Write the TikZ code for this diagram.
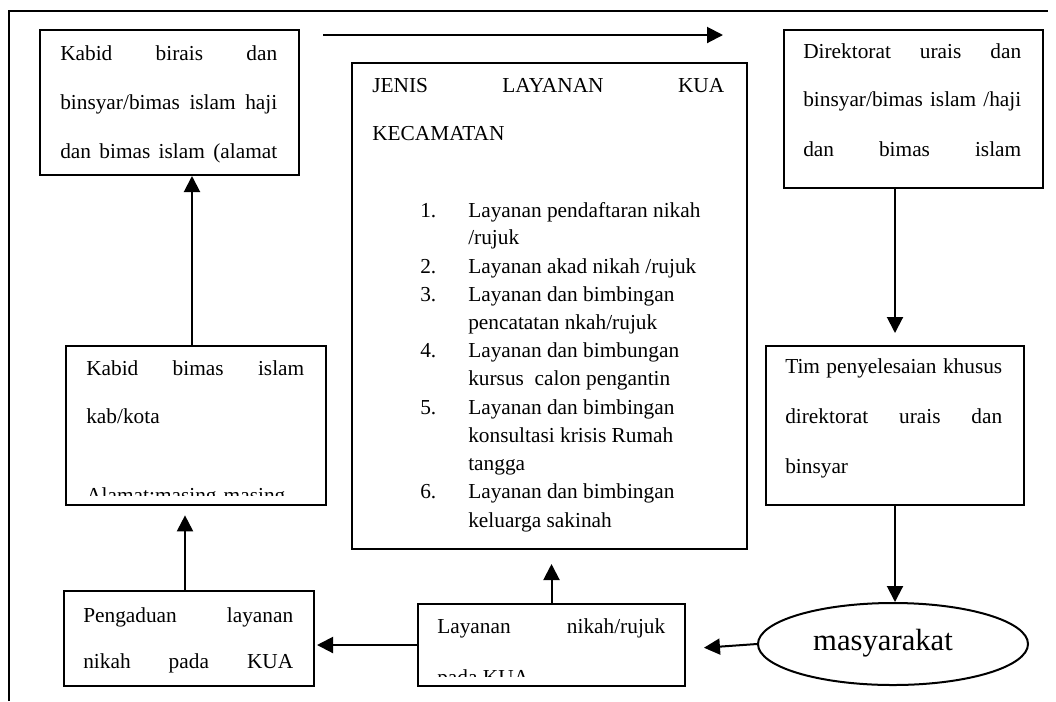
\documentclass[tikz,border=0pt]{standalone}
\usepackage{fontspec}
\setmainfont{Liberation Serif}
\usetikzlibrary{arrows.meta,shapes.geometric}
\newdimen\pxu \pxu=0.75pt
\newcommand\jl[2]{\makebox[#1\pxu][s]{#2}}
\tikzset{
  box/.style={draw, line width=1.5pt, inner sep=0pt, anchor=north west},
  txt/.style={anchor=base west, inner sep=0pt, font=\fontsize{16}{19}\selectfont},
  arr/.style={line width=1.5pt, -{Triangle[length=12pt,width=12pt]}},
  frame/.style={line width=1.5pt}
}
\begin{document}
\begin{tikzpicture}[x=0.75pt,y=-0.75pt]
\useasboundingbox (0,0) rectangle (1056,701);
% outer frame (top and left only)
\draw[frame] (9,701) -- (9,11) -- (1048,11);
% boxes
\node[box, minimum width=259\pxu, minimum height=145\pxu] (A) at (39,29) {};
\node[box, minimum width=395\pxu, minimum height=486\pxu] (J) at (351,62) {};
\node[box, minimum width=259\pxu, minimum height=158\pxu] (D) at (783,29) {};
\node[box, minimum width=258\pxu, minimum height=159\pxu] (T) at (765,345) {};
\node[box, minimum width=260\pxu, minimum height=159\pxu] (K) at (65,345) {};
\node[box, minimum width=250\pxu, minimum height=95\pxu] (P) at (63,590) {};
\node[box, minimum width=267\pxu, minimum height=82\pxu] (L) at (417,603) {};
\node[draw, ellipse, line width=1.5pt, inner sep=0pt, minimum width=270\pxu, minimum height=82\pxu] (M) at (893,644) {};
% texts
\node[txt] (a1) at (60,60) {\jl{217}{Kabid birais dan}};
\node[txt] (a2) at (60,109) {\jl{217}{binsyar/bimas islam haji}};
\node[txt] (a3) at (60,158) {\jl{217}{dan bimas islam (alamat}};
\node[txt] (d1) at (803,58) {\jl{218}{Direktorat urais dan}};
\node[txt] (d2) at (803,106) {\jl{218}{binsyar/bimas islam /haji}};
\node[txt] (d3) at (803,156) {\jl{218}{dan bimas islam}};
\node[txt] (j1) at (372,92) {\jl{352}{JENIS LAYANAN KUA}};
\node[txt] (j2) at (372,140) {KECAMATAN};
\node[txt] (n1) at (420,217) {1.};
\node[txt] (l1a) at (468,217) {Layanan pendaftaran nikah};
\node[txt] (l1b) at (468,244) {/rujuk};
\node[txt] (n2) at (420,273) {2.};
\node[txt] (l2a) at (468,273) {Layanan akad nikah /rujuk};
\node[txt] (n3) at (420,301) {3.};
\node[txt] (l3a) at (468,301) {Layanan dan bimbingan};
\node[txt] (l3b) at (468,329) {pencatatan nkah/rujuk};
\node[txt] (n4) at (420,357) {4.};
\node[txt] (l4a) at (468,357) {Layanan dan bimbungan};
\node[txt] (l4b) at (468,385) {kursus\ \ calon pengantin};
\node[txt] (n5) at (420,414) {5.};
\node[txt] (l5a) at (468,414) {Layanan dan bimbingan};
\node[txt] (l5b) at (468,442) {konsultasi krisis Rumah};
\node[txt] (l5c) at (468,470) {tangga};
\node[txt] (n6) at (420,498) {6.};
\node[txt] (l6a) at (468,498) {Layanan dan bimbingan};
\node[txt] (l6b) at (468,527) {keluarga sakinah};
\node[txt] (t1) at (785,373) {\jl{217}{Tim penyelesaian khusus}};
\node[txt] (t2) at (785,423) {\jl{217}{direktorat urais dan}};
\node[txt] (t3) at (785,473) {binsyar};
\node[txt] (k1) at (86,375) {\jl{218}{Kabid bimas islam}};
\node[txt] (k2) at (86,423) {kab/kota};
\begin{scope}
\clip (66,346) rectangle (324,495);
\node[txt] (k3) at (86,502) {Alamat:masing-masing};
\end{scope}
\node[txt] (p1) at (83,622) {\jl{210}{Pengaduan layanan}};
\node[txt] (p2) at (83,668) {\jl{210}{nikah pada KUA}};
\node[txt] (q1) at (437,633) {\jl{228}{Layanan nikah/rujuk}};
\begin{scope}
\clip (418,604) rectangle (683,676);
\node[txt] (q2) at (437,684) {pada KUA};
\end{scope}
\node[anchor=base, inner sep=0pt, font=\fontsize{23}{27}\selectfont] (mt) at (883,650) {masyarakat};
% connectors
\coordinate (s1) at (323,35);
\coordinate (e1) at (723,35);
\draw[arr] (s1) -- (e1);
\draw[arr, shorten >=9pt] (D.south -| T.north) -- (T.north);
\draw[arr] (T.south) -- (T.south |- M.north);
\draw[arr, shorten >=13.5pt] (M.west) -- ([yshift=-3pt]L.east);
\draw[arr, shorten >=10.5pt] (L.north) -- (L.north |- J.south);
\draw[arr, shorten >=1.5pt] (L.west) -- (L.west -| P.east);
\draw[arr, shorten >=7pt] ([xshift=-3pt]P.north) -- ([xshift=-3pt]P.north |- K.south);
\draw[arr] ([xshift=-3pt]K.north) -- ([xshift=-3pt]K.north |- A.south);
\end{tikzpicture}
\end{document}
